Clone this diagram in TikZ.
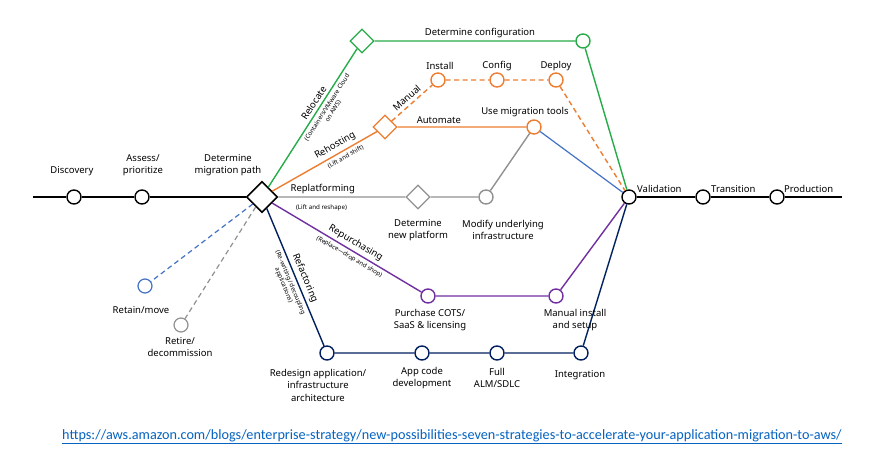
\documentclass[tikz,border=0pt]{standalone}
\usepackage{fontspec}
\setmainfont{Noto Sans}
\newfontfamily\linkfont{Carlito}
\usetikzlibrary{shapes.geometric}

\definecolor{relocgreen}{RGB}{38,172,72}
\definecolor{rehostorange}{RGB}{237,125,49}
\definecolor{replatgray}{RGB}{145,145,145}
\definecolor{repurchpurple}{RGB}{112,48,160}
\definecolor{refactnavy}{RGB}{0,32,96}
\definecolor{retainblue}{RGB}{68,114,196}
\definecolor{linkblue}{RGB}{5,99,193}

\tikzset{
  stopnode/.style={circle,draw,fill=white,line width=1.4pt,minimum size=14pt,inner sep=0pt},
  forknode/.style={diamond,draw,fill=white,line width=1.3pt,minimum size=24pt,inner sep=0pt},
  route/.style={line width=1.4pt},
  lbl/.style={font=\fontsize{9.5}{12.5}\selectfont,align=center,inner sep=1pt,text=black},
  routelbl/.style={lbl,sloped,inner sep=3pt},
  sublbl/.style={font=\fontsize{6.2}{7.2}\selectfont,align=center,sloped,text=black,inner sep=3pt},
  gapdash/.style={dash pattern=on 5pt off 3.5pt}
}

\begin{document}
\begin{tikzpicture}[x=1pt,y=-1pt]
\fill[white] (0,0) rectangle (876,457);
\useasboundingbox (0,0) rectangle (876,457);

% stations
\node[stopnode] (disc) at (74,197) {};
\node[stopnode] (assess) at (142,197) {};
\node[forknode,minimum size=31pt,line width=1.6pt] (det) at (262,197) {};
\node[forknode,draw=relocgreen] (reloc) at (362,41) {};
\node[stopnode,draw=relocgreen] (detcfg) at (583,41) {};
\node[forknode,draw=rehostorange] (rehost) at (385,127) {};
\node[stopnode,draw=rehostorange] (install) at (438,80) {};
\node[stopnode,draw=rehostorange] (config) at (497,80) {};
\node[stopnode,draw=rehostorange] (deploy) at (556,80) {};
\node[stopnode,draw=rehostorange] (tools) at (534,127) {};
\node[forknode,draw=replatgray] (newplat) at (418,197) {};
\node[stopnode,draw=replatgray] (infra) at (486,197) {};
\node[stopnode,draw=repurchpurple] (cots) at (428,296) {};
\node[stopnode,draw=repurchpurple] (setup) at (556,296) {};
\node[stopnode,draw=refactnavy] (redesign) at (327,353) {};
\node[stopnode,draw=refactnavy] (appcode) at (422,353) {};
\node[stopnode,draw=refactnavy] (alm) at (497,353) {};
\node[stopnode,draw=refactnavy] (integ) at (581,353) {};
\node[stopnode,draw=retainblue,line width=1.2pt] (retain) at (145,286) {};
\node[stopnode,draw=replatgray,line width=1.2pt] (retire) at (181,325) {};
\node[stopnode] (valid) at (629,197) {};
\node[stopnode] (trans) at (703,197) {};
\node[stopnode] (prod) at (777,197) {};
\coordinate (start) at (33,197);
\coordinate (finish) at (842,197);

% main line
\draw[route] (start) -- (disc) -- (assess) -- (det);
\draw[route] (valid) -- (trans) -- (prod) -- (finish);

% relocate
\draw[route,relocgreen] (det)
    -- node[routelbl,above,pos=0.58] {Relocate}
       node[sublbl,below,pos=0.6] {(Containers/VMware Cloud\\on AWS)}
    (reloc) -- (detcfg) -- (valid);

% rehosting
\draw[route,rehostorange] (det)
    -- node[routelbl,above,pos=0.64] {Rehosting}
       node[sublbl,below,pos=0.67] {(Lift and shift)}
    (rehost) -- node[lbl,above=2pt,pos=0.32] {Automate} (tools);
\draw[route,rehostorange,gapdash] (rehost)
    -- node[routelbl,above,pos=0.49] {Manual}
    (install) -- (config) -- (deploy) -- (valid);
\draw[route,retainblue,line width=1.2pt] (tools) -- (valid);

% replatforming
\draw[route,replatgray] (det)
    -- node[lbl,above=2pt,pos=0.35] {Replatforming}
       node[sublbl,below=4pt,pos=0.34] {(Lift and reshape)}
    (newplat) -- (infra) -- (tools);

% repurchasing
\draw[route,repurchpurple] (det)
    -- node[routelbl,above,pos=0.53] {Repurchasing}
       node[sublbl,below,pos=0.54] {(Replace---drop and shop)}
    (cots) -- (setup) -- (valid);

% refactoring
\draw[route,refactnavy] (det)
    -- node[routelbl,above,pos=0.53] {Refactoring}
       node[sublbl,below,pos=0.52] {(Re-writing/ decoupling\\applications)}
    (redesign) -- (appcode) -- (alm) -- (integ) -- (valid);

% retain / retire
\draw[route,retainblue,gapdash,line width=1.2pt] (det) -- (retain);
\draw[route,replatgray,gapdash,line width=1.2pt] (det) -- (retire);

% station labels
\node[lbl] (disclbl) at (72,171) {Discovery};
\node[lbl] (assesslbl) at (143,165) {Assess/\\prioritize};
\node[lbl] (detlbl) at (228,165) {Determine\\migration path};
\node[lbl] (detcfglbl) at (480,33) {Determine configuration};
\node[lbl] (installlbl) at (440,66) {Install};
\node[lbl] (configlbl) at (497,66) {Config};
\node[lbl] (deploylbl) at (556,66) {Deploy};
\node[lbl] (toolslbl) at (525,112) {Use migration tools};
\node[lbl] (newplatlbl) at (418,230) {Determine\\new platform};
\node[lbl] (infralbl) at (503,230) {Modify underlying\\infrastructure};
\node[lbl] (cotslbl) at (430,320) {Purchase COTS/\\SaaS \& licensing};
\node[lbl] (setuplbl) at (575,320) {Manual install\\and setup};
\node[lbl] (redesignlbl) at (318,385) {Redesign application/\\infrastructure\\architecture};
\node[lbl] (appcodelbl) at (422,378) {App code\\development};
\node[lbl] (almlbl) at (497,378) {Full\\ALM/SDLC};
\node[lbl] (integlbl) at (580,375) {Integration};
\node[lbl] (retainlbl) at (141,310) {Retain/move};
\node[lbl] (retirelbl) at (180,347) {Retire/\\decommission};
\node[lbl,anchor=west] (validlbl) at (636,189) {Validation};
\node[lbl,anchor=west] (translbl) at (710,189) {Transition};
\node[lbl,anchor=west] (prodlbl) at (783,189) {Production};

% source
\node[font=\linkfont\fontsize{14.2}{17}\selectfont,text=linkblue] (src) at (452,437)
    {\underline{https://aws.amazon.com/blogs/enterprise-strategy/new-possibilities-seven-strategies-to-accelerate-your-application-migration-to-aws/}};
\end{tikzpicture}
\end{document}
